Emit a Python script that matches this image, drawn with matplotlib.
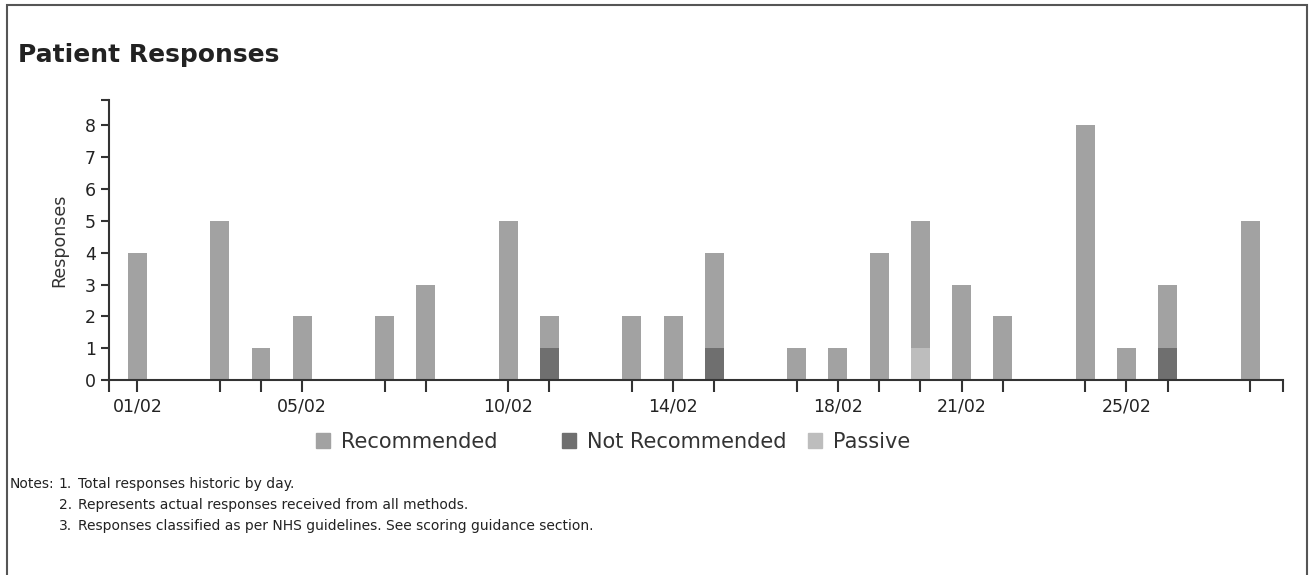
import matplotlib.pyplot as plt
from matplotlib.patches import Rectangle, Patch

days = [1, 3, 4, 5, 7, 8, 10, 11, 13, 14, 15, 17, 18, 19, 20, 21, 22, 24, 25, 26, 28]
not_recommended = [0, 0, 0, 0, 0, 0, 0, 1, 0, 0, 1, 0, 0, 0, 0, 0, 0, 0, 0, 1, 0]
passive = [0, 0, 0, 0, 0, 0, 0, 0, 0, 0, 0, 0, 0, 0, 1, 0, 0, 0, 0, 0, 0]
recommended = [4, 5, 1, 2, 2, 3, 5, 1, 2, 2, 3, 1, 1, 4, 4, 3, 2, 8, 1, 2, 5]
labelled_days = [1, 5, 10, 14, 18, 21, 25]
y_ticks = [0, 1, 2, 3, 4, 5, 6, 7, 8]

notes = ['Total responses historic by day.',
         'Represents actual responses received from all methods.',
         'Responses classified as per NHS guidelines. See scoring guidance section.']

c_rec = '#a2a2a2'
c_not = '#6f6f6f'
c_pas = '#bdbdbd'
dark = '#333333'

fig = plt.figure(figsize=(13.09, 5.75), dpi=100)

# outer frame (bottom edge runs off the page)
fig.patches.append(Rectangle((7 / 1309, -0.05), 1300 / 1309, 1.05 - 5 / 575, transform=fig.transFigure,
                             fill=False, edgecolor='#555555', linewidth=1.5))

fig.text(18 / 1309, 1 - 55 / 575, 'Patient Responses', fontsize=18, fontweight='bold',
         color='#222222', va='center', ha='left')

ax = fig.add_axes([108.5 / 1309, 1 - 380 / 575, (1283 - 108.5) / 1309, 280 / 575])
x = [d - 1 for d in days]
bottom2 = [a + b for a, b in zip(not_recommended, passive)]
ax.bar(x, not_recommended, width=0.46, color=c_not)
ax.bar(x, passive, width=0.46, bottom=not_recommended, color=c_pas)
ax.bar(x, recommended, width=0.46, bottom=bottom2, color=c_rec)

ax.set_xlim(-0.7, 27.8)
ax.set_ylim(0, 8.8)
for s in ['top', 'right']:
    ax.spines[s].set_visible(False)
for s in ['left', 'bottom']:
    ax.spines[s].set_color(dark)
    ax.spines[s].set_linewidth(1.5)

ax.set_xticks(x + [-0.7, 27.8])
ax.set_xticklabels([f'{d:02d}/02' if d in labelled_days else '' for d in days] + ['', ''])
ax.set_yticks(y_ticks + [8.8])
ax.set_yticklabels([str(v) for v in y_ticks] + [''])
ax.tick_params(axis='x', length=8.5, width=1.5, color=dark, labelsize=12.5, labelcolor='#222222', pad=4)
ax.tick_params(axis='y', length=6, width=1.5, color=dark, labelsize=12.5, labelcolor='#222222', pad=3)
ax.set_ylabel('Responses', fontsize=12.5, color='#333333', labelpad=12)

# legend entries, evenly spaced columns
legend_items = [('Recommended', c_rec), ('Not Recommended', c_not), ('Passive', c_pas)]
for i, (name, col) in enumerate(legend_items):
    xpos = (297 + 246 * i) / 1309
    fig.legend(handles=[Patch(color=col, label=name)], loc='center left',
               bbox_to_anchor=(xpos, 1 - 442 / 575), frameon=False, fontsize=15,
               handlelength=0.7, handleheight=0.7, handletextpad=0.5, labelcolor='#333333')

fig.text(10 / 1309, 1 - 484 / 575, 'Notes:', fontsize=10, ha='left', va='center', color='#222222')
for i, note in enumerate(notes):
    y = 1 - (484 + 21 * i) / 575
    fig.text(72 / 1309, y, f'{i + 1}.', fontsize=10, ha='right', va='center', color='#222222')
    fig.text(78 / 1309, y, note, fontsize=10, ha='left', va='center', color='#222222')

fig.savefig('out.png', dpi=100)
